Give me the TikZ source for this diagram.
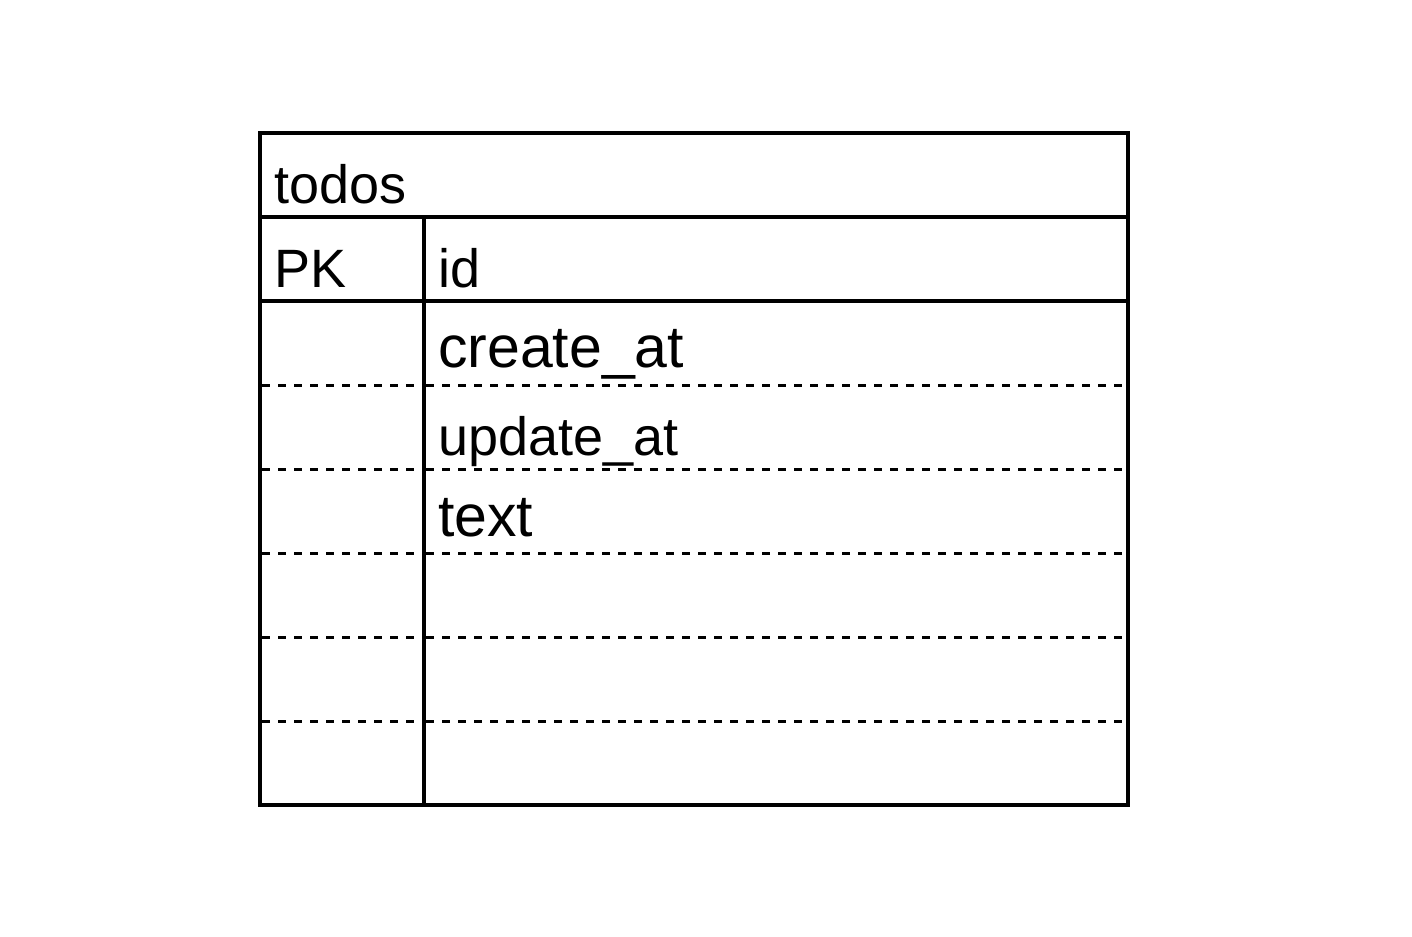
\documentclass[tikz,border=0pt]{standalone}
\usepackage{fontspec}
\setmainfont{Liberation Sans}
\begin{document}
\begin{tikzpicture}[x=1pt,y=-1pt,
  solidline/.style={line width=4pt},
  dashline/.style={line width=3pt,dash pattern=on 8pt off 8pt},
  lbl/.style={anchor=base west,inner sep=0pt,font=\fontsize{54}{60}\selectfont},
  lblbig/.style={anchor=base west,inner sep=0pt,font=\fontsize{59}{66}\selectfont}]
\useasboundingbox[fill=white] (0,0) rectangle (1412,936);
% dashed separators
\foreach \y in {385,469,553,637,721}{
  \draw[dashline] (262,\y) -- (424,\y);
  \draw[dashline] (426,\y) -- (1126,\y);
}
% solid structure
\draw[solidline] (260,133) rectangle (1128,805);
\draw[solidline] (260,217) -- (1128,217);
\draw[solidline] (260,301) -- (1128,301);
\draw[solidline] (424,217) -- (424,805);
% texts
\node[lbl] (title) at (274,203) {todos};
\node[lbl] (pk) at (274,287) {PK};
\node[lbl] (id) at (438,287) {id};
\node[lblbig] (create) at (438,367) {create\_at};
\node[lbl] (update) at (438,455) {update\_at};
\node[lblbig] (text) at (438,536) {text};
\end{tikzpicture}
\end{document}
